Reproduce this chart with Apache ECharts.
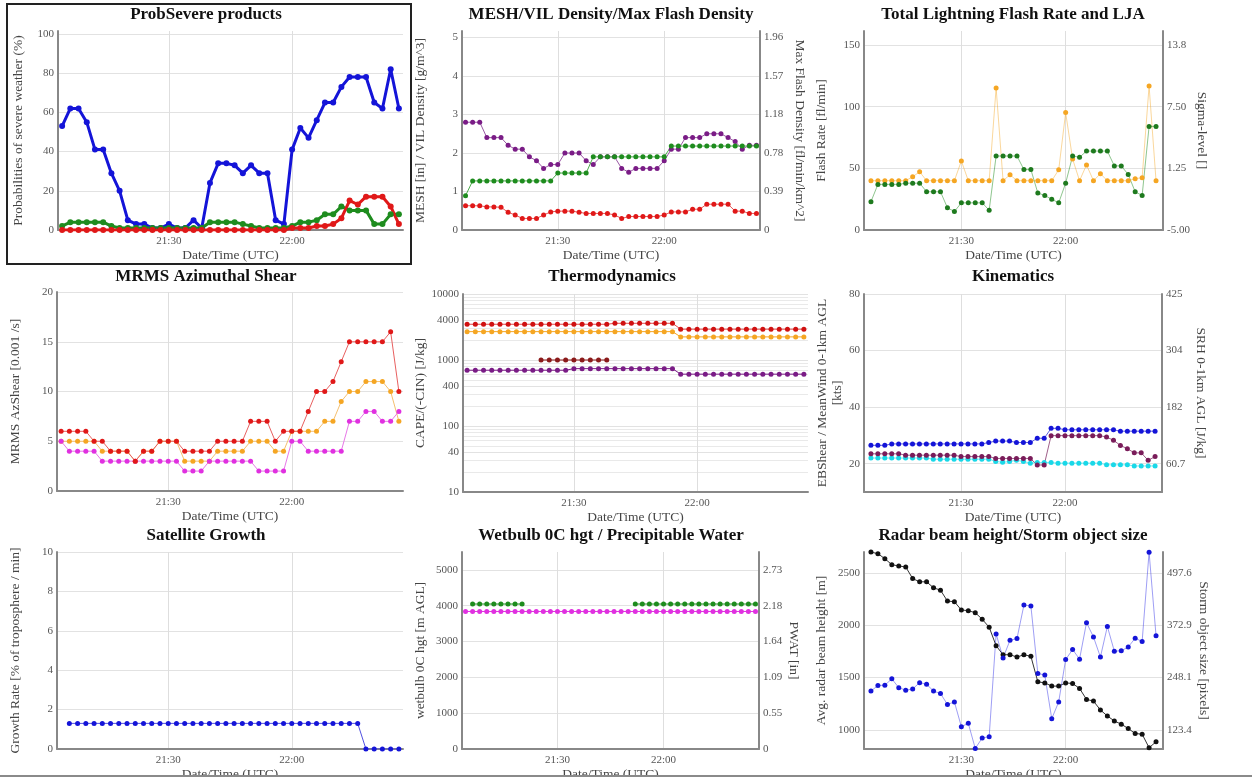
<!DOCTYPE html>
<html>
<head>
<meta charset="utf-8">
<title>Storm object time series</title>
<script src="https://cdn.jsdelivr.net/npm/echarts@6.0.0/dist/echarts.min.js"></script>
<style>
html, body { margin: 0; padding: 0; background: #fff; }
#stormChartContainer { width: 1252px; height: 782px; }
</style>
</head>
<body>
<div id="stormChartContainer"></div>
<script>
// scan times (UTC), one every 2 min
var times = ['21:04','21:06','21:08','21:10','21:12','21:14','21:16','21:18','21:20','21:22',
	'21:24','21:26','21:28','21:30','21:32','21:34','21:36','21:38','21:40','21:42',
	'21:44','21:46','21:48','21:50','21:52','21:54','21:56','21:58','22:00','22:02',
	'22:04','22:06','22:08','22:10','22:12','22:14','22:16','22:18','22:20','22:22',
	'22:24','22:26'];
var timeTicks = ['21:30', '22:00'];

// ProbSevere products
var probBlue = [53,62,62,55,41,41,29,20,5,3, 3,1,1,3,1,1,5,1,24,34, 34,33,29,33,29,29,5,3,41,52, 47,56,65,65,73,78,78,78,65,62, 82,62];
var probGreen = [2,4,4,4,4,4,2,1,1,1, 1,1,1,1,1,1,1,1,4,4, 4,4,3,2,1,1,1,1,2,4, 4,5,8,8,12,10,10,10,3,3, 8,8];
var probRed = [0,0,0,0,0,0,0,0,0,0, 0,0,0,0,0,0,0,0,0,0, 0,0,0,0,0,0,0,0,1,1, 1,2,2,3,6,15,13,17,17,17, 12,3];
var probTicks = [0,20,40,60,80,100];

// MESH / VIL density / max flash density
var vilDensity = [2.8,2.8,2.8,2.4,2.4,2.4,2.2,2.1,2.1,1.9, 1.8,1.6,1.7,1.7,2.0,2.0,2.0,1.8,1.7,1.9, 1.9,1.9,1.6,1.5,1.6,1.6,1.6,1.6,1.8,2.1, 2.1,2.4,2.4,2.4,2.5,2.5,2.5,2.4,2.3,2.1, 2.2,2.2];
var maxFlashDensity = [0.35,0.5,0.5,0.5,0.5,0.5,0.5,0.5,0.5,0.5, 0.5,0.5,0.5,0.58,0.58,0.58,0.58,0.58,0.745,0.745, 0.745,0.745,0.745,0.745,0.745,0.745,0.745,0.745,0.745,0.855, 0.855,0.855,0.855,0.855,0.855,0.855,0.855,0.855,0.855,0.855, 0.855,0.855];
var mesh = [0.63,0.63,0.63,0.6,0.6,0.59,0.46,0.39,0.3,0.3, 0.3,0.39,0.47,0.49,0.49,0.49,0.46,0.43,0.43,0.43, 0.43,0.39,0.3,0.35,0.35,0.35,0.35,0.35,0.39,0.47, 0.47,0.47,0.54,0.54,0.67,0.67,0.67,0.67,0.49,0.49, 0.43,0.43];
var meshTicks = [0,1,2,3,4,5];
var mfdTicks = [0,0.392,0.784,1.176,1.568,1.96];
var mfdLabels = ['0','0.39','0.78','1.18','1.57','1.96'];

// total lightning flash rate / LJA sigma level
var flashRate = [23,37,37,37,37,38,38,38,31,31, 31,18,15,22,22,22,22,16,60,60, 60,60,49,49,30,28,25,22,38,60, 59,64,64,64,64,52,52,45,31,28, 84,84];
var sigmaLevel = [0,0,0,0,0,0,0.4,0.9,0,0, 0,0,0,2.0,0,0,0,0,9.4,0, 0.6,0,0,0,0,0,0,1.1,6.9,2.2, 0,1.6,0,0.7,0,0,0,0,0.2,0.3, 9.6,0];
var flashTicks = [0,50,100,150];
var sigmaTicks = [-5,1.25,7.5,13.75];
var sigmaLabels = ['-5.00','1.25','7.50','13.8'];

// MRMS azimuthal shear
var azRed = [6,6,6,6,5,5,4,4,4,3, 4,4,5,5,5,4,4,4,4,5, 5,5,5,7,7,7,5,6,6,6, 8,10,10,11,13,15,15,15,15,15, 16,10];
var azOrange = [5,5,5,5,5,4,4,4,4,3, 4,4,5,5,5,3,3,3,3,4, 4,4,4,5,5,5,4,4,6,6, 6,6,7,7,9,10,10,11,11,11, 10,7];
var azMagenta = [5,4,4,4,4,3,3,3,3,3, 3,3,3,3,3,2,2,2,3,3, 3,3,3,3,2,2,2,2,5,5, 4,4,4,4,4,7,7,8,8,7, 7,8];
var azTicks = [0,5,10,15,20];

// thermodynamics (log scale)
var capeRed = [3480,3480,3480,3480,3480,3480,3480,3480,3480,3480, 3480,3480,3480,3480,3480,3480,3480,3480,3600,3600, 3600,3600,3600,3600,3600,3600,2930,2930,2930,2930, 2930,2930,2930,2930,2930,2930,2930,2930,2930,2930, 2930,2930];
var capeOrange = [2690,2690,2690,2690,2690,2690,2690,2690,2690,2690, 2690,2690,2690,2690,2690,2690,2690,2690,2690,2690, 2690,2690,2690,2690,2690,2690,2240,2240,2240,2240, 2240,2240,2240,2240,2240,2240,2240,2240,2240,2240, 2240,2240];
var capeDark = [null,null,null,null,null,null,null,null,null,1000, 1000,1000,1000,1000,1000,1000,1000,1000,null,null, null,null,null,null,null,null,null,null,null,null, null,null,null,null,null,null,null,null,null,null, null,null];
var capePurple = [700,700,700,700,700,700,700,700,700,700, 700,700,700,740,740,740,740,740,740,740, 740,740,740,740,740,740,610,610,610,610, 610,610,610,610,610,610,610,610,610,610, 610,610];
var capeTicks = [10,40,100,400,1000,4000,10000];
var capeMinorTicks = [20,30,50,60,70,80,90,200,300,500,600,700,800,900,2000,3000,5000,6000,7000,8000,9000];

// kinematics
var kinBlue = [26.5,26.5,26.5,27,27,27,27,27,27,27, 27,27,27,27,27,27,27,27.5,28,28, 28,27.5,27.5,27.5,29,29,32.5,32.5,32,32, 32,32,32,32,32,32,31.5,31.5,31.5,31.5, 31.5,31.5];
var kinCyan = [22,22,22,22,22,22,22,22,22,21.6, 21.6,21.6,21.6,21.6,21.6,21.6,21.6,21.6,20.8,20.5, 20.8,21.2,20.8,20.2,20.4,20.4,20.4,20.2,20.2,20.2, 20.2,20.2,20.2,20.2,19.6,19.6,19.6,19.6,19.2,19.2, 19.2,19.2];
var srh = [82,82,82,82,82,79,79,79,79,79, 79,79,79,76,76,76,76,76,72,72, 72,72,72,72,58,58,121,121,121,121, 121,121,121,121,118,111,100,93,84,84, 68,76];
var kinTicks = [20,40,60,80];
var srhTicks = [60.71,182.14,303.57,425];
var srhLabels = ['60.7','182','304','425'];

// satellite growth
var growthRate = [null,1.3,1.3,1.3,1.3,1.3,1.3,1.3,1.3,1.3, 1.3,1.3,1.3,1.3,1.3,1.3,1.3,1.3,1.3,1.3, 1.3,1.3,1.3,1.3,1.3,1.3,1.3,1.3,1.3,1.3, 1.3,1.3,1.3,1.3,1.3,1.3,1.3,0,0,0, 0,0];
var growthTicks = [0,2,4,6,8,10];

// wetbulb 0C height / PWAT
var wetbulbHgt = [3840,3840,3840,3840,3840,3840,3840,3840,3840,3840, 3840,3840,3840,3840,3840,3840,3840,3840,3840,3840, 3840,3840,3840,3840,3840,3840,3840,3840,3840,3840, 3840,3840,3840,3840,3840,3840,3840,3840,3840,3840, 3840,3840];
var pwat = [null,2.21,2.21,2.21,2.21,2.21,2.21,2.21,2.21,null, null,null,null,null,null,null,null,null,null,null, null,null,null,null,2.21,2.21,2.21,2.21,2.21,2.21, 2.21,2.21,2.21,2.21,2.21,2.21,2.21,2.21,2.21,2.21, 2.21,2.21];
var wbTicks = [0,1000,2000,3000,4000,5000];
var pwatTicks = [0,0.546,1.092,1.638,2.184,2.73];
var pwatLabels = ['0','0.55','1.09','1.64','2.18','2.73'];

// radar beam height / storm object size
var beamHeight = [2699,2684,2636,2579,2566,2557,2446,2415,2415,2358, 2335,2231,2225,2146,2139,2120,2057,1981,1804,1718, 1718,1696,1718,1703,1459,1449,1418,1418,1449,1443, 1396,1291,1275,1190,1133,1085,1054,1013,965,959, 829,886];
var objectSize = [216,229,230,245,224,218,221,236,232,216, 210,184,190,131,139,79,104,107,352,295, 337,341,421,419,258,254,150,190,291,315, 292,379,345,297,370,311,312,321,342,334, 547,348];
var beamTicks = [1000,1500,2000,2500];
var sizeTicks = [123.4,248.1,372.9,497.6];
var sizeLabels = ['123.4','248.1','372.9','497.6'];

var FONT = 'Liberation Serif';

var stormPanels = {
	/**
	 * 'HH:MM' -> minutes after 21:00
	 */
	toMin : function(t){
		var p = t.split(':');
		return parseInt(p[0], 10) * 60 + parseInt(p[1], 10) - 1260;
	},

	fmtMin : function(v){
		var m = Math.round(v) + 1260;
		var h = Math.floor(m / 60), mm = m % 60;
		return h + ':' + (mm < 10 ? '0' : '') + mm;
	},

	/**
	 * label text for a tick value
	 */
	pickLabel : function(values, texts){
		return function(v){
			for(var i=0; i<values.length; i++){
				if(Math.abs(values[i] - v) <= 1e-3 * Math.max(1, Math.abs(v))){
					return texts ? texts[i] : String(values[i]);
				}
			}
			return '';
		};
	},

	axisX : function(gridIndex, min, max){
		var ticks = timeTicks.map(stormPanels.toMin);
		return {
			type: 'value', gridIndex: gridIndex, min: min, max: max,
			name: 'Date/Time (UTC)', nameLocation: 'middle', nameGap: 18,
			nameTextStyle: {fontFamily: FONT, fontSize: 13.5, color: '#444'},
			axisLine: {show: true, onZero: false, lineStyle: {color: '#888', width: 2}},
			axisTick: {show: false, customValues: ticks},
			axisLabel: {customValues: ticks, formatter: stormPanels.fmtMin, fontFamily: FONT, fontSize: 11, color: '#555', margin: 6},
			splitLine: {show: true, lineStyle: {color: '#dedede', width: 1}}
		};
	},

	axisY : function(gridIndex, o){
		return {
			type: o.type || 'value', gridIndex: gridIndex, position: o.position || 'left',
			min: o.min, max: o.max, logBase: 10,
			name: o.name, nameLocation: 'middle', nameGap: o.nameGap || 34,
			nameRotate: o.position === 'right' ? -90 : 90,
			nameTextStyle: {fontFamily: FONT, fontSize: 13.5, color: '#444', lineHeight: 15},
			axisLine: {show: o.line !== false, onZero: false, lineStyle: {color: '#888', width: 2}},
			axisTick: {show: false, customValues: o.ticks},
			axisLabel: {show: o.label !== false, customValues: o.ticks, formatter: stormPanels.pickLabel(o.ticks, o.labels),
				fontFamily: FONT, fontSize: 11, color: '#555', margin: 4},
			splitLine: {show: o.split !== false, lineStyle: {color: o.splitColor || '#e2e2e2', width: 1}}
		};
	},

	line : function(xi, yi, values, color, lineColor, width, size){
		var data = [];
		for(var i=0; i<times.length; i++){
			data.push([stormPanels.toMin(times[i]), values[i] == null ? '-' : values[i]]);
		}
		return {
			type: 'line', xAxisIndex: xi, yAxisIndex: yi, data: data,
			symbol: 'circle', symbolSize: size || 5, showSymbol: true, silent: true,
			itemStyle: {color: color},
			lineStyle: {color: lineColor || color, width: width || 1},
			emphasis: {disabled: true}
		};
	},

	title : function(text, cx, top){
		return {
			text: text, left: cx, top: top, textAlign: 'center', textVerticalAlign: 'top', padding: 0,
			textStyle: {fontFamily: FONT, fontSize: 17, fontWeight: 'bold', color: '#111'}
		};
	},

	showChart : function(){
		var myChart = echarts.init(document.getElementById('stormChartContainer'), null, {renderer: 'canvas'});
		var P = stormPanels;
		var option = {
			animation: false,
			backgroundColor: '#fff',
			title: [
				P.title('ProbSevere products', 206, 6),
				P.title('MESH/VIL Density/Max Flash Density', 611, 6),
				P.title('Total Lightning Flash Rate and LJA', 1013, 6),
				P.title('MRMS Azimuthal Shear', 206, 268),
				P.title('Thermodynamics', 612, 268),
				P.title('Kinematics', 1013, 268),
				P.title('Satellite Growth', 206, 527),
				P.title('Wetbulb 0C hgt / Precipitable Water', 611, 527),
				P.title('Radar beam height/Storm object size', 1013, 527)
			],
			grid: [
				{left: 58, top: 31, width: 345, height: 199},
				{left: 462, top: 31, width: 298, height: 199},
				{left: 864, top: 31, width: 299, height: 199},
				{left: 57, top: 292, width: 346, height: 199},
				{left: 463, top: 294, width: 345, height: 198},
				{left: 864, top: 294, width: 298, height: 198},
				{left: 57, top: 552, width: 346, height: 198},
				{left: 462, top: 552, width: 297, height: 198},
				{left: 864, top: 552, width: 299, height: 198}
			],
			xAxis: [
				P.axisX(0, 3, 87), P.axisX(1, 3, 87), P.axisX(2, 2, 88),
				P.axisX(3, 3, 87), P.axisX(4, 3, 87), P.axisX(5, 2, 88),
				P.axisX(6, 3, 87), P.axisX(7, 3, 87), P.axisX(8, 2, 88)
			],
			yAxis: [
				// 0
				P.axisY(0, {min: 0, max: 101.5, ticks: probTicks, name: 'Probabilities of severe weather (%)', nameGap: 32}),
				// 1, 2
				P.axisY(1, {min: 0, max: 5.17, ticks: meshTicks, name: 'MESH [in] / VIL Density [g/m^3]', nameGap: 34}),
				P.axisY(1, {position: 'right', min: 0, max: 2.027, ticks: mfdTicks, labels: mfdLabels, split: false,
					name: 'Max Flash Density [fl/min/km^2]', nameGap: 32}),
				// 3, 4
				P.axisY(2, {min: 0, max: 161.4, ticks: flashTicks, name: 'Flash Rate [fl/min]', nameGap: 35}),
				P.axisY(2, {position: 'right', min: -5, max: 15.175, ticks: sigmaTicks, labels: sigmaLabels, split: false,
					name: 'Sigma-level []', nameGap: 31}),
				// 5
				P.axisY(3, {min: 0, max: 20, ticks: azTicks, name: 'MRMS AzShear [0.001 /s]', nameGap: 34}),
				// 6, 7
				P.axisY(4, {type: 'log', min: 10, max: 10000, ticks: capeTicks, name: 'CAPE/(-CIN) [J/kg]', nameGap: 35}),
				P.axisY(4, {type: 'log', min: 10, max: 10000, ticks: capeMinorTicks, line: false, label: false, splitColor: '#e9e9e9'}),
				// 8, 9
				P.axisY(5, {min: 10, max: 80, ticks: kinTicks, name: 'EBShear / MeanWind 0-1km AGL\n[kts]', nameGap: 18}),
				P.axisY(5, {position: 'right', min: 0, max: 425, ticks: srhTicks, labels: srhLabels, split: false,
					name: 'SRH 0-1km AGL [J/kg]', nameGap: 31}),
				// 10
				P.axisY(6, {min: 0, max: 10, ticks: growthTicks, name: 'Growth Rate [% of troposphere / min]', nameGap: 34}),
				// 11, 12
				P.axisY(7, {min: 0, max: 5500, ticks: wbTicks, name: 'wetbulb 0C hgt [m AGL]', nameGap: 34}),
				P.axisY(7, {position: 'right', min: 0, max: 3.003, ticks: pwatTicks, labels: pwatLabels, split: false,
					name: 'PWAT [in]', nameGap: 27}),
				// 13, 14
				P.axisY(8, {min: 817, max: 2700, ticks: beamTicks, name: 'Avg. radar beam height [m]', nameGap: 35}),
				P.axisY(8, {position: 'right', min: 77.75, max: 547.5, ticks: sizeTicks, labels: sizeLabels, split: false,
					name: 'Storm object size [pixels]', nameGap: 33})
			],
			series: [
				P.line(0, 0, probBlue, '#1414d8', null, 3, 6),
				P.line(0, 0, probGreen, '#1e8c1e', null, 3, 6),
				P.line(0, 0, probRed, '#e01818', null, 3, 6),

				P.line(1, 1, vilDensity, '#7a1c86', '#9a58a4'),
				P.line(1, 2, maxFlashDensity, '#1e8c1e', '#4caa4c'),
				P.line(1, 1, mesh, '#e01818', '#e85858'),

				P.line(2, 4, sigmaLevel, '#f5a623', 'rgba(245,166,35,0.45)'),
				P.line(2, 3, flashRate, '#1e7a1e', 'rgba(30,140,30,0.5)'),

				P.line(3, 5, azOrange, '#f5a623', '#f5c070'),
				P.line(3, 5, azMagenta, '#e030e0', '#e878e8'),
				P.line(3, 5, azRed, '#e01818', '#e86060'),

				P.line(4, 6, capeOrange, '#f5a623'),
				P.line(4, 6, capeRed, '#d01010', '#e04a4a'),
				P.line(4, 6, capePurple, '#7a1c86'),
				P.line(4, 6, capeDark, '#8b1a1a'),

				P.line(5, 8, kinCyan, '#19d8e8', '#7aeaf2'),
				P.line(5, 9, srh, '#7a1c5a', '#a0608a'),
				P.line(5, 8, kinBlue, '#1414d8', '#6060e0'),

				P.line(6, 10, growthRate, '#1414d8', '#5050e0'),

				P.line(7, 11, wetbulbHgt, '#e030e0'),
				P.line(7, 12, pwat, '#1e8c1e'),

				P.line(8, 13, beamHeight, '#111111', '#333333'),
				P.line(8, 14, objectSize, '#1414d8', 'rgba(40,40,230,0.45)')
			],
			graphic: [
				// frame round the selected panel
				{type: 'rect', z: 100, shape: {x: 7, y: 4, width: 404, height: 260},
					style: {fill: 'none', stroke: '#222', lineWidth: 2}},
				// page edge at the bottom
				{type: 'rect', z: 100, shape: {x: 0, y: 776, width: 1252, height: 6},
					style: {fill: '#fff', stroke: null}},
				{type: 'rect', z: 101, shape: {x: 0, y: 775, width: 1252, height: 2},
					style: {fill: '#8a8a8a', stroke: null}}
			]
		};
		myChart.setOption(option);
	}
};

stormPanels.showChart();
</script>
</body>
</html>
